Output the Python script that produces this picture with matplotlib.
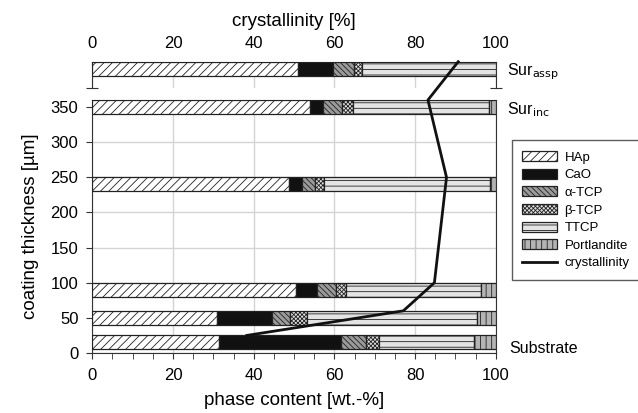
import matplotlib
matplotlib.use('Agg')
import matplotlib.pyplot as plt
from matplotlib.lines import Line2D
from matplotlib.patches import Patch
import numpy as np

plt.rcParams['font.family'] = ['Liberation Sans', 'DejaVu Sans']
plt.rcParams['hatch.linewidth'] = 0.6

# Phase content [wt.-%] per layer, bottom to top (upper edge of each layer in µm)
thickness = [25, 60, 100, 250, 360]
hap = [31.4, 30.8, 50.5, 48.8, 54.0]
cao = [30.2, 13.7, 5.1, 3.3, 3.1]
a_tcp = [6.3, 4.5, 4.8, 3.1, 4.7]
b_tcp = [3.2, 4.1, 2.4, 2.3, 2.7]
ttcp = [23.5, 42.2, 33.6, 41.1, 33.8]
portlandite = [5.4, 4.7, 3.6, 1.4, 1.7]
crystallinity = [38.3, 77.1, 84.8, 87.8, 83.2]

# As-sprayed surface (top panel)
assp_phases = [51.1, 8.5, 5.3, 1.9, 33.2, 0.0]
assp_crystallinity = 90.7

phase_names = ['HAp', 'CaO', 'α-TCP', 'β-TCP', 'TTCP', 'Portlandite']
faces = ['white', '#111111', '#9a9a9a', '#dddddd', '#e4e4e4', '#b4b4b4']
hatches = ['////', None, '\\\\\\\\\\\\', 'xxxxxxxx', '---', '|||']

fig = plt.figure(figsize=(6.38, 4.13), dpi=100)
ax = fig.add_axes([0.1447, 0.1453, 0.6323, 0.6126])
ax_top = fig.add_axes([0.1447, 0.7869, 0.6323, 0.0637])

edge = '#222222'
grid_c = '#d4d4d4'

# main panel: stacked horizontal bars hanging down 20 µm from each layer edge
series = [hap, cao, a_tcp, b_tcp, ttcp, portlandite]
left = np.zeros(len(thickness))
for vals, fc, h in zip(series, faces, hatches):
    ax.barh(thickness, vals, height=-20, left=left, align='edge',
            color=fc, hatch=h, edgecolor=edge, linewidth=0.9, zorder=3)
    left += np.array(vals)

# top panel: as-sprayed surface
lt = 0.0
for v, fc, h in zip(assp_phases, faces, hatches):
    if v > 0:
        ax_top.barh([1.0], [v], height=-0.55, left=lt, align='edge',
                    color=fc, hatch=h, edgecolor=edge, linewidth=0.9, zorder=3)
    lt += v

ax.set_xlim(0, 100)
ax.set_ylim(0, 360)
ax.set_xticks(np.arange(0, 101, 20))
ax.set_xticks(np.arange(0, 101, 5), minor=True)
ax.set_yticks(np.arange(0, 351, 50))
ax.tick_params(axis='both', which='both', direction='out', length=4,
               color='#333333', labelsize=12)
ax.tick_params(axis='x', which='major', pad=7)
ax.tick_params(axis='y', which='major', pad=6)
ax.grid(True, color=grid_c, linewidth=1, zorder=0)
ax.set_axisbelow(True)
for s in ax.spines.values():
    s.set_color('#333333')
ax.set_xlabel('phase content [wt.-%]', fontsize=13.5, labelpad=6)
ax.set_ylabel('coating thickness [µm]', fontsize=13.5, labelpad=8)

ax_top.set_xlim(0, 100)
ax_top.set_ylim(0, 1)
ax_top.xaxis.tick_top()
ax_top.xaxis.set_label_position('top')
ax_top.set_xticks(np.arange(0, 101, 20))
ax_top.set_xticks(np.arange(0, 101, 5), minor=True)
ax_top.tick_params(axis='x', which='both', direction='in', length=3,
                   color='#333333', labelsize=12, pad=8)
ax_top.set_yticks([0])
ax_top.set_yticklabels([])
ax_top.tick_params(axis='y', direction='inout', length=8, left=True, right=True,
                   color='#333333')
ax_top.spines['bottom'].set_visible(False)
for s in ['top', 'left', 'right']:
    ax_top.spines[s].set_color('#333333')
ax_top.grid(True, axis='x', color=grid_c, linewidth=1, zorder=0)
ax_top.set_axisbelow(True)
ax_top.set_xlabel('crystallinity [%]', fontsize=13.5, labelpad=7)

# crystallinity line runs from the main panel up into the top panel;
# drawn on the top axes so it stays above both panels
fig.canvas.draw()
to_top = ax.transData + ax_top.transData.inverted()
pts = to_top.transform(np.column_stack([crystallinity, thickness]))
cx = list(pts[:, 0]) + [assp_crystallinity]
cy = list(pts[:, 1]) + [1.0]
ax_top.plot(cx, cy, color='#111111', linewidth=2, zorder=5, clip_on=False)

fig.text(0.795, 0.826, r'Sur$_{\mathrm{assp}}$', fontsize=11.5, va='center')
fig.text(0.795, 0.735, r'Sur$_{\mathrm{inc}}$', fontsize=11.5, va='center')
fig.text(0.798, 0.157, 'Substrate', fontsize=11.5, va='center')

handles = [Patch(facecolor=fc, hatch=h, edgecolor=edge, linewidth=0.9)
           for fc, h in zip(faces, hatches)]
handles.append(Line2D([], [], color='#111111', linewidth=2))
labels = phase_names + ['crystallinity']
fig.legend(handles, labels, loc='upper left', bbox_to_anchor=(0.802, 0.66),
           borderaxespad=0, frameon=True, fancybox=False, edgecolor='#333333',
           fontsize=9.5, handlelength=2.6, handleheight=0.8, labelspacing=0.38,
           borderpad=0.8, handletextpad=0.6)

fig.savefig('out.png', dpi=100)
